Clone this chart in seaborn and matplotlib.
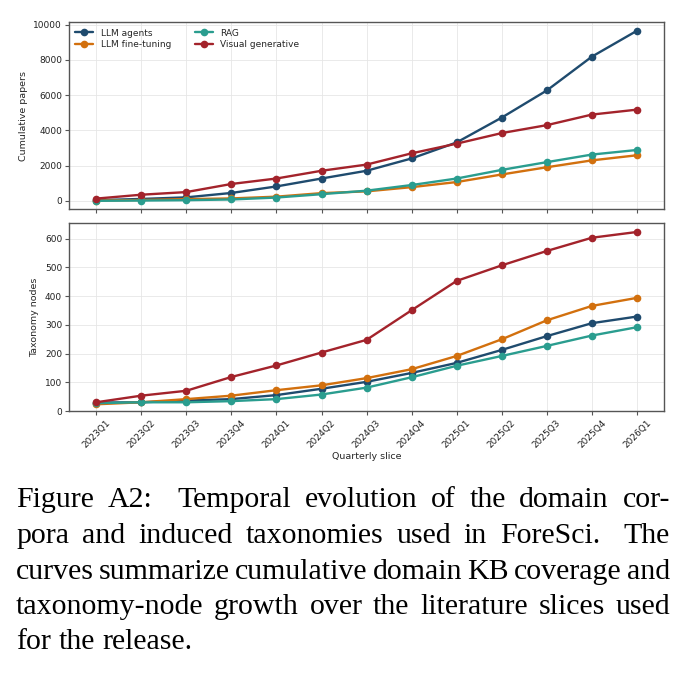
import pandas as pd
import matplotlib.pyplot as plt
import seaborn as sns

quarters = ["2023Q1", "2023Q2", "2023Q3", "2023Q4", "2024Q1", "2024Q2", "2024Q3",
            "2024Q4", "2025Q1", "2025Q2", "2025Q3", "2025Q4", "2026Q1"]
domains = ["LLM agents", "LLM fine-tuning", "RAG", "Visual generative"]

# cumulative papers per domain
papers_agents = [40, 110, 200, 450, 820, 1270, 1710, 2410, 3320, 4730, 6270, 8190, 9660]
papers_finetune = [20, 50, 100, 140, 240, 440, 540, 780, 1070, 1500, 1910, 2300, 2590]
papers_rag = [5, 20, 40, 80, 190, 380, 580, 900, 1270, 1760, 2200, 2630, 2890]
papers_visual = [130, 350, 500, 960, 1270, 1710, 2060, 2700, 3250, 3850, 4300, 4900, 5180]

# taxonomy nodes per domain
nodes_agents = [30, 31, 37, 42, 56, 78, 102, 133, 168, 213, 261, 306, 329]
nodes_finetune = [24, 31, 42, 54, 73, 90, 115, 146, 192, 250, 316, 366, 394]
nodes_rag = [28, 31, 31, 35, 42, 58, 82, 118, 158, 192, 227, 263, 292]
nodes_visual = [31, 54, 71, 119, 159, 204, 248, 351, 453, 507, 557, 603, 623]

palette = {"LLM agents": "#1f4b6e", "LLM fine-tuning": "#d2700e",
           "RAG": "#2a9d8f", "Visual generative": "#a3232b"}

caption_lines = [
    "Figure A2:  Temporal evolution of the domain cor-",
    "pora and induced taxonomies used in ForeSci.  The",
    "curves summarize cumulative domain KB coverage and",
    "taxonomy-node growth over the literature slices used",
    "for the release.",
]


def to_long(series_list):
    frames = []
    for name, vals in zip(domains, series_list):
        frames.append(pd.DataFrame({"quarter": quarters, "value": vals, "domain": name}))
    return pd.concat(frames, ignore_index=True)


papers = to_long([papers_agents, papers_finetune, papers_rag, papers_visual])
nodes = to_long([nodes_agents, nodes_finetune, nodes_rag, nodes_visual])

sns.set_theme(style="whitegrid")
plt.rcParams.update({
    "font.family": ["DejaVu Sans"],
    "axes.edgecolor": "#555555",
    "axes.linewidth": 1.0,
    "grid.color": "#e6e6e6",
    "grid.linewidth": 0.6,
    "xtick.bottom": True,
    "ytick.left": True,
    "xtick.major.size": 3,
    "ytick.major.size": 3,
    "xtick.color": "#555555",
    "ytick.color": "#555555",
    "xtick.labelcolor": "#222222",
    "ytick.labelcolor": "#222222",
})

fig = plt.figure(figsize=(6.91, 6.73), dpi=100)
ax1 = fig.add_axes([0.100, 0.689, 0.861, 0.278])
ax2 = fig.add_axes([0.100, 0.389, 0.861, 0.280], sharex=ax1)

for ax, df in [(ax1, papers), (ax2, nodes)]:
    sns.lineplot(data=df, x="quarter", y="value", hue="domain", hue_order=domains,
                 palette=palette, marker="o", markersize=5.5, markeredgewidth=0,
                 linewidth=1.7, sort=False, ax=ax)
    ax.tick_params(labelsize=6.5, width=0.8, pad=2)
    ax.grid(True)

ax1.set_xlabel("")
ax1.set_ylabel("Cumulative papers", fontsize=6.8)
ax1.set_yticks([0, 2000, 4000, 6000, 8000, 10000])
ax1.tick_params(axis="x", labelbottom=False)
ax1.legend(loc="upper left", ncol=2, frameon=False, fontsize=6.5,
           handlelength=2.0, columnspacing=2.6, borderaxespad=0.3, labelspacing=0.3)

ax2.set_ylim(0, 655)
ax2.set_yticks([0, 100, 200, 300, 400, 500, 600])
ax2.set_xlabel("Quarterly slice", fontsize=6.8, labelpad=2)
ax2.set_ylabel("Taxonomy nodes", fontsize=6.8)
ax2.get_legend().remove()
plt.setp(ax2.get_xticklabels(), rotation=45, ha="center", rotation_mode="default")

# justified caption below the figure (double space after sentence ends is wider)
renderer = fig.canvas.get_renderer()
W, H = fig.bbox.width, fig.bbox.height
left_px, right_px = 16, 670
baselines = [507, 543, 579, 614, 649]
cap_font = dict(family="Liberation Serif", fontsize=21.5, color="black", va="baseline", ha="left")

probe2 = fig.text(0, 0, "a a", **cap_font)
probe1 = fig.text(0, 0, "aa", **cap_font)
space_w = probe2.get_window_extent(renderer).width - probe1.get_window_extent(renderer).width
probe1.remove()
probe2.remove()

for i, (line, base) in enumerate(zip(caption_lines, baselines)):
    words = line.split()
    weights = [1.8 if w.endswith((".", ":")) else 1.0 for w in words[:-1]]
    y = 1 - base / H
    texts = [fig.text(0, y, w, **cap_font) for w in words]
    widths = [t.get_window_extent(renderer).width for t in texts]
    if i < len(caption_lines) - 1 and len(words) > 1:
        unit = (right_px - left_px - sum(widths)) / sum(weights)
    else:
        unit = space_w
    x = left_px
    for j, (t, w) in enumerate(zip(texts, widths)):
        t.set_x(x / W)
        if j < len(weights):
            x += w + unit * weights[j]

fig.savefig("out.png", dpi=100)
